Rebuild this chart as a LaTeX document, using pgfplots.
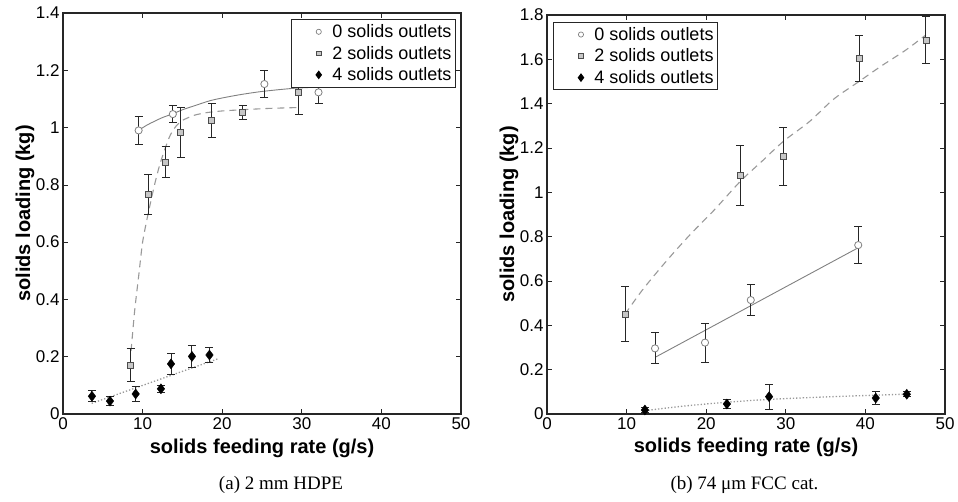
\documentclass[border=0pt]{standalone}
\usepackage{pgfplots}
\usepackage{pgfplotstable}
\pgfplotsset{compat=1.18}
\usepackage{fontspec}
\setmainfont{Liberation Sans}
\newfontfamily\capfont{Liberation Serif}
\definecolor{circg}{gray}{0.5}
\definecolor{sqfill}{gray}{0.78}
\definecolor{sqedge}{gray}{0.3}
\definecolor{fitsolid}{gray}{0.5}
\definecolor{fitdash}{gray}{0.6}
\definecolor{fitdot}{gray}{0.6}
\definecolor{errc}{gray}{0.15}
% (a) 2 mm HDPE
\pgfplotstableread{
x y e
9.5 0.99 0.05
13.8 1.047 0.03
25.3 1.152 0.047
32.1 1.123 0.04
}\aZero
\pgfplotstableread{
x y e
8.5 0.171 0.057
10.7 0.767 0.07
12.9 0.88 0.055
14.8 0.983 0.087
18.7 1.025 0.058
22.6 1.052 0.025
29.6 1.123 0.077
}\aTwo
\pgfplotstableread{
x y e
3.64 0.062 0.02
5.9 0.045 0.017
9.13 0.07 0.025
12.3 0.088 0.012
13.57 0.175 0.037
16.2 0.201 0.038
18.4 0.206 0.025
}\aFour
% (b) 74 um FCC cat.
\pgfplotstableread{
x y e
13.57 0.296 0.07
19.85 0.322 0.088
25.6 0.514 0.07
39.1 0.762 0.085
}\bZero
\pgfplotstableread{
x y e
9.8 0.451 0.124
24.3 1.075 0.136
29.7 1.162 0.132
39.2 1.604 0.105
47.6 1.687 0.106
}\bTwo
\pgfplotstableread{
x y e
12.3 0.018 0.01
22.6 0.045 0.02
27.9 0.078 0.057
41.3 0.072 0.028
45.2 0.089 0.012
}\bFour
\begin{document}
\begin{tikzpicture}[x=1pt,y=1pt]
\useasboundingbox (0,0) rectangle (958,502);
\pgfplotsset{
  myax/.style={
    scale only axis, width=398pt, anchor=south west,
    xmin=0, xmax=50, xtick={0,10,20,30,40,50},
    tick align=inside, major tick length=5pt,
    axis line style={line width=1.1pt, black!85},
    every tick/.style={black!85, line width=0.7pt},
    ticklabel style={font=\fontsize{17}{17}\selectfont},
    /pgf/number format/assume math mode=true,
    yticklabel style={/pgf/number format/fixed},
    label style={font=\bfseries\fontsize{20}{20}\selectfont},
    xlabel={solids feeding rate (g/s)},
    ylabel={solids loading (kg)},
    legend style={font=\fontsize{18}{18}\selectfont, draw=black!85, line width=1pt, fill=white, row sep=3pt, inner xsep=2pt, inner ysep=3pt},
    legend cell align=left,
  },
  legimg/.style={legend image code/.code={\path (-25pt,0pt) (11pt,0pt); \draw[##1] plot coordinates {(0pt,0pt)};}},
  errs/.style={forget plot, only marks, mark=none,
    error bars/.cd, y dir=both, y explicit,
    error bar style={line width=1pt, errc},
    error mark options={rotate=90, mark size=4pt, line width=1pt, errc}},
  circs/.style={forget plot, only marks, mark=*, mark size=3.6pt, mark options={draw=circg, fill=white, line width=0.8pt}},
  sqs/.style={forget plot, only marks, mark=square*, mark size=3pt, mark options={draw=sqedge, fill=sqfill, line width=0.8pt}},
  dias/.style={forget plot, only marks, mark=diamond*, mark size=5pt, mark options={draw=black, fill=black}},
  leg0/.style={only marks, mark=*, mark size=2.6pt, mark options={draw=circg, fill=white, line width=0.7pt}, legimg},
  leg2/.style={only marks, mark=square*, mark size=2.3pt, mark options={draw=sqedge, fill=sqfill, line width=0.7pt}, legimg},
  leg4/.style={only marks, mark=diamond*, mark size=3.6pt, mark options={draw=black, fill=black}, legimg},
}
% ---------------- (a) 2 mm HDPE ----------------
\begin{axis}[myax, at={(63pt,88pt)}, height=401pt,
  ymin=0, ymax=1.4, ytick={0,0.2,...,1.4},
  xlabel style={at={(rel axis cs:0.5,-0.0973)}, anchor=base},
  ylabel style={at={(rel axis cs:-0.0955,0.5)}, anchor=center},
  legend style={at={(rel axis cs:0.987,0.985)}, anchor=north east}]
\addlegendimage{leg0}
\addlegendentry{0 solids outlets}
\addlegendimage{leg2}
\addlegendentry{2 solids outlets}
\addlegendimage{leg4}
\addlegendentry{4 solids outlets}
% fits
\addplot[forget plot, fitsolid, line width=0.9pt, smooth] coordinates {
 (9.5,0.99) (10.5,1.008) (11.5,1.022) (12.5,1.035) (13.8,1.048) (15,1.062) (16.5,1.076)
 (18.5,1.094) (20.5,1.106) (22.5,1.116) (24.7,1.125) (27,1.132) (29,1.137) (31,1.140) (32.5,1.142)};
\addplot[forget plot, fitdash, line width=1.1pt, dash pattern=on 7pt off 5pt, smooth, tension=0.4] coordinates {
 (8.55,0.22) (9.0,0.36) (9.5,0.48) (10.0,0.60) (10.7,0.70) (11.5,0.80) (12.2,0.875) (13.0,0.94)
 (13.5,0.975) (14.2,1.005) (15.0,1.025) (16.5,1.043) (18.0,1.052) (20.0,1.058) (23.0,1.063) (26.0,1.067) (29.6,1.07)};
\addplot[forget plot, fitdot, line width=1.3pt, dotted] coordinates {(3.6,0.037) (19.5,0.193)};
% error bars, then markers on top
\addplot[errs] table[x=x, y=y, y error=e] {\aZero};
\addplot[errs] table[x=x, y=y, y error=e] {\aTwo};
\addplot[errs] table[x=x, y=y, y error=e] {\aFour};
\addplot[circs] table[x=x, y=y] {\aZero};
\addplot[sqs] table[x=x, y=y] {\aTwo};
\addplot[dias] table[x=x, y=y] {\aFour};
\end{axis}
% ---------------- (b) 74 um FCC ----------------
\begin{axis}[myax, at={(547pt,88pt)}, height=399pt,
  ymin=0, ymax=1.8, ytick={0,0.2,...,1.8},
  xlabel style={at={(rel axis cs:0.5,-0.0977)}, anchor=base},
  ylabel style={at={(rel axis cs:-0.0955,0.5)}, anchor=center},
  legend style={at={(rel axis cs:0.015,0.983)}, anchor=north west}]
\addlegendimage{leg0}
\addlegendentry{0 solids outlets}
\addlegendimage{leg2}
\addlegendentry{2 solids outlets}
\addlegendimage{leg4}
\addlegendentry{4 solids outlets}
% fits
\addplot[forget plot, fitdash, line width=1.1pt, dash pattern=on 7pt off 5pt, smooth] coordinates {
 (9.8,0.45) (12,0.56) (15,0.69) (18,0.81) (21,0.92) (24.3,1.05) (27,1.14) (29.7,1.23) (33,1.32)
 (36,1.42) (39.2,1.50) (42,1.57) (45,1.64) (47.6,1.71)};
\addplot[forget plot, fitsolid, line width=0.9pt] coordinates {(13.6,0.256) (39.1,0.75)};
\addplot[forget plot, fitdot, line width=1.3pt, dotted, smooth] coordinates {
 (12.3,0.015) (17,0.035) (22.6,0.053) (28,0.066) (35,0.077) (41.4,0.085) (45.5,0.09)};
% error bars, then markers on top
\addplot[errs] table[x=x, y=y, y error=e] {\bTwo};
\addplot[errs] table[x=x, y=y, y error=e] {\bZero};
\addplot[errs] table[x=x, y=y, y error=e] {\bFour};
\addplot[sqs] table[x=x, y=y] {\bTwo};
\addplot[circs] table[x=x, y=y] {\bZero};
\addplot[dias] table[x=x, y=y] {\bFour};
\end{axis}
\node[font=\capfont\fontsize{19}{19}\selectfont, anchor=base] at (281,12) {(a) 2 mm HDPE};
\node[font=\capfont\fontsize{19}{19}\selectfont, anchor=base] at (744.5,12) {(b) 74 μm FCC cat.};
\end{tikzpicture}
\end{document}
